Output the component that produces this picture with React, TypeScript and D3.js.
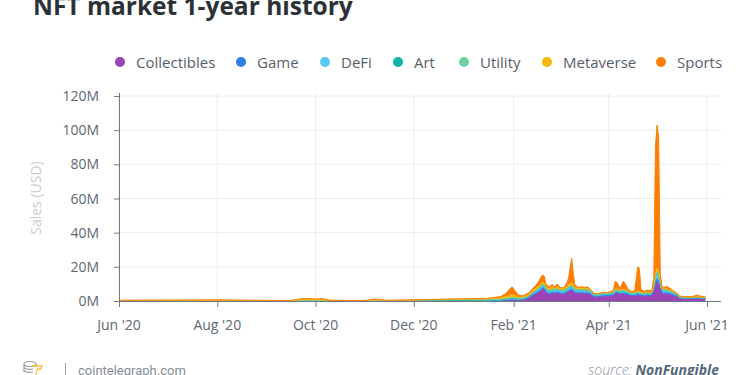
import React from 'react';
import * as d3 from 'd3';

const dates = [
  '2020-06-01','2020-06-15','2020-07-01','2020-07-15','2020-08-01','2020-08-15','2020-09-01','2020-09-15',
  '2020-09-22','2020-09-26','2020-10-01','2020-10-05','2020-10-10','2020-10-20','2020-11-01','2020-11-06',
  '2020-11-09','2020-11-14','2020-11-25','2020-12-10','2020-12-25','2021-01-05','2021-01-15','2021-01-20',
  '2021-01-24','2021-01-27','2021-01-29','2021-01-31','2021-02-02','2021-02-04','2021-02-07','2021-02-10',
  '2021-02-12','2021-02-14','2021-02-16','2021-02-18','2021-02-19','2021-02-20','2021-02-21','2021-02-23',
  '2021-02-25','2021-02-26','2021-02-28','2021-03-02','2021-03-04','2021-03-06','2021-03-07','2021-03-09',
  '2021-03-10','2021-03-11','2021-03-13','2021-03-15','2021-03-17','2021-03-19','2021-03-21','2021-03-23',
  '2021-03-25','2021-03-27','2021-03-29','2021-03-31','2021-04-02','2021-04-04','2021-04-05','2021-04-06',
  '2021-04-08','2021-04-10','2021-04-11','2021-04-13','2021-04-15','2021-04-17','2021-04-18','2021-04-19',
  '2021-04-20','2021-04-21','2021-04-23','2021-04-25','2021-04-27','2021-04-28','2021-04-29','2021-04-30',
  '2021-05-01','2021-05-02','2021-05-03','2021-05-04','2021-05-05','2021-05-07','2021-05-09','2021-05-11',
  '2021-05-13','2021-05-15','2021-05-17','2021-05-20','2021-05-23','2021-05-26','2021-05-28','2021-05-31',
];

// values in millions USD
const collectibles = [
  0.05,0.05,0.05,0.05,0.05,0.05,0.05,0.05, 0.05,0.05,0.05,0.05,0.05,0.05,0.05,0.05,
  0.05,0.05,0.05,0.05,0.08,0.1,0.1,0.15, 0.2,0.3,0.3,0.3,0.3,0.4,0.6,1.5,
  2.8,3.8,4.8,6.0,7.2,6.6,5.0,3.8, 4.8,4.0,4.8,4.2,4.0,5.0,5.5,6.5,
  5.5,4.6,4.3,4.4,4.2,4.4,3.5,2.3, 2.2,2.6,2.8,2.8,3.0,3.4,4.5,4.6,
  4.0,4.2,4.0,3.6,3.0,3.0,3.2,3.5, 3.3,3.0,2.8,3.2,3.0,3.5,6.0,9.0,
  10.5,9.5,6.5,4.5,4.0,4.2,3.8,3.2, 2.6,1.4,1.1,1.1,1.2,1.3,1.1,1.0,
];
const game = [
  0.05,0.05,0.05,0.05,0.05,0.05,0.05,0.05, 0.08,0.08,0.08,0.08,0.05,0.05,0.05,0.08,
  0.08,0.05,0.05,0.05,0.05,0.05,0.05,0.1, 0.15,0.3,0.4,0.5,0.4,0.3,0.3,0.3,
  0.4,0.4,0.5,0.6,0.6,0.6,0.5,0.5, 0.5,0.5,0.5,0.4,0.4,0.5,0.5,0.6,
  0.5,0.5,0.5,0.5,0.5,0.5,0.4,0.3, 0.3,0.3,0.3,0.3,0.3,0.3,0.4,0.4,
  0.4,0.4,0.4,0.4,0.3,0.3,0.3,0.4, 0.4,0.3,0.3,0.3,0.3,0.4,0.8,1.5,
  2.5,2.0,1.2,0.8,0.6,0.6,0.5,0.4, 0.4,0.3,0.3,0.3,0.3,0.3,0.3,0.3,
];
const defi = [
  0.05,0.05,0.05,0.05,0.05,0.05,0.05,0.05, 0.1,0.1,0.1,0.1,0.05,0.05,0.05,0.1,
  0.1,0.05,0.08,0.08,0.1,0.1,0.1,0.15, 0.2,0.3,0.4,0.5,0.5,0.4,0.4,0.5,
  0.8,1.0,1.2,1.4,1.5,1.5,1.3,1.2, 1.3,1.2,1.3,1.2,1.2,1.3,1.4,1.5,
  1.4,1.2,1.2,1.2,1.1,1.2,1.0,0.8, 0.8,0.8,0.9,0.8,0.8,0.9,1.0,1.0,
  0.9,1.0,1.0,0.9,0.8,0.8,0.8,0.9, 0.9,0.8,0.8,0.8,0.8,0.9,1.5,3.0,
  3.5,3.0,2.5,1.5,1.2,1.2,1.1,0.9, 0.8,0.5,0.4,0.4,0.4,0.4,0.4,0.4,
];
const art = [
  0.02,0.02,0.02,0.02,0.02,0.02,0.02,0.02, 0.02,0.02,0.02,0.02,0.02,0.02,0.02,0.02,
  0.02,0.02,0.05,0.08,0.1,0.1,0.1,0.1, 0.15,0.2,0.2,0.3,0.2,0.2,0.2,0.2,
  0.2,0.3,0.3,0.3,0.3,0.3,0.3,0.3, 0.3,0.3,0.3,0.3,0.3,0.3,0.3,0.3,
  0.3,0.3,0.3,0.3,0.3,0.3,0.3,0.2, 0.2,0.2,0.2,0.2,0.2,0.2,0.2,0.2,
  0.2,0.2,0.2,0.2,0.2,0.2,0.2,0.2, 0.2,0.2,0.2,0.2,0.2,0.2,0.3,0.4,
  0.5,0.4,0.3,0.3,0.2,0.2,0.2,0.2, 0.2,0.1,0.1,0.1,0.1,0.1,0.1,0.1,
];
const utility = [
  0.02,0.02,0.02,0.02,0.02,0.02,0.02,0.02, 0.02,0.02,0.02,0.02,0.02,0.02,0.02,0.02,
  0.02,0.05,0.15,0.3,0.35,0.4,0.4,0.4, 0.3,0.3,0.3,0.3,0.2,0.2,0.2,0.2,
  0.2,0.2,0.2,0.2,0.2,0.2,0.2,0.2, 0.2,0.2,0.2,0.2,0.2,0.2,0.2,0.2,
  0.2,0.2,0.2,0.2,0.2,0.2,0.2,0.2, 0.2,0.2,0.2,0.2,0.2,0.2,0.2,0.2,
  0.2,0.2,0.2,0.2,0.2,0.2,0.2,0.2, 0.2,0.2,0.2,0.2,0.2,0.2,0.2,0.3,
  0.3,0.3,0.2,0.2,0.2,0.2,0.2,0.2, 0.2,0.1,0.1,0.1,0.1,0.1,0.1,0.1,
];
const metaverse = [
  0.05,0.05,0.05,0.08,0.08,0.05,0.05,0.05, 0.4,0.5,0.4,0.4,0.1,0.05,0.05,0.3,
  0.3,0.08,0.1,0.2,0.35,0.4,0.45,0.6, 0.8,1.2,1.5,1.8,1.5,0.8,0.7,0.8,
  1.0,1.2,1.3,1.3,1.3,1.2,1.0,1.0, 1.2,1.0,1.2,1.0,1.0,1.2,1.4,1.6,
  1.4,1.1,0.9,1.0,0.9,1.0,0.8,0.4, 0.4,0.5,0.6,0.5,0.5,0.6,0.8,0.8,
  0.6,0.8,0.8,0.6,0.5,0.5,0.6,0.7, 0.7,0.5,0.5,0.5,0.5,0.6,1.0,1.5,
  2.0,1.8,1.0,0.8,0.7,0.7,0.6,0.5, 0.4,0.3,0.2,0.2,0.2,0.3,0.2,0.3,
];
const sports = [
  0.2,0.3,0.35,0.35,0.4,0.3,0.15,0.1, 0.6,0.7,0.5,0.7,0.2,0.1,0.1,0.6,
  0.5,0.1,0.1,0.1,0.15,0.2,0.3,0.6, 0.8,1.7,3.4,4.6,2.6,1.0,0.8,1.0,
  1.1,1.6,2.2,4.2,4.2,4.1,1.7,1.0, 1.6,0.8,1.6,0.6,0.5,2.0,4.0,14.3,
  6.5,1.5,0.6,0.7,0.8,0.7,0.3,0.2, 0.1,0.2,0.2,0.2,0.4,0.9,4.4,3.8,
  0.9,4.7,3.9,1.1,0.5,0.5,6.7,14.1, 13.3,2.0,0.7,1.3,1.0,1.7,4.2,74.3,
  83.7,78.0,4.3,0.9,1.1,1.4,1.1,0.6, 0.4,0.3,0.3,0.3,0.3,1.0,0.6,0.3,
];

const seriesNames = ['Collectibles', 'Game', 'DeFi', 'Art', 'Utility', 'Metaverse', 'Sports'];
const seriesValues = [collectibles, game, defi, art, utility, metaverse, sports];
const seriesColors = ['#9c43b5', '#2f7fe9', '#57c9f2', '#10b3a5', '#6fd29c', '#f6b70c', '#fc7e05'];
const yTicks = [0, 20, 40, 60, 80, 100, 120];
const xTicks = ['2020-06-01', '2020-08-01', '2020-10-01', '2020-12-01', '2021-02-01', '2021-04-01', '2021-06-01'];
const legendX = [120, 241, 325, 398, 464, 547, 661];

const FONT = "'Open Sans', 'Noto Sans', sans-serif";

export default function App() {
  const parse = d3.utcParse('%Y-%m-%d');
  const left = 119;
  const right = 721;
  const top = 93;
  const x = d3.scaleUtc().domain([parse('2020-06-01')!, parse('2021-06-01')!]).range([119, 707]);
  const y = d3.scaleLinear().domain([0, 120]).range([301, 96]);

  const rows = dates.map((d, i) => {
    const r: any = { date: parse(d) };
    seriesNames.forEach((n, k) => { r[n] = seriesValues[k][i]; });
    return r;
  });
  const stacked = d3.stack<any>().keys(seriesNames)(rows);
  const area = d3.area<any>()
    .x((d) => x(d.data.date))
    .y0((d) => y(d[0]))
    .y1((d) => y(d[1]))
    .curve(d3.curveLinear);
  const line = d3.line<any>()
    .x((d) => x(d.data.date))
    .y((d) => y(d[1]))
    .curve(d3.curveLinear);
  const fmt = d3.utcFormat("%b '%y");

  return (
    <svg width={750} height={375} style={{ position: 'absolute', left: 0, top: 0, background: '#fff' }}
      fontFamily={FONT}>
      <rect x={0} y={0} width={750} height={375} fill="#fff" />
      <text x={33} y={15} fontSize={24.5} fontWeight={700} fill="#2c3137">NFT market 1-year history</text>

      {seriesNames.map((n, i) => (
        <g key={n}>
          <circle cx={legendX[i]} cy={62} r={5} fill={seriesColors[i]} />
          <text x={legendX[i] + 16} y={67.5} fontSize={15} fill="#56606b">{n}</text>
        </g>
      ))}

      {/* grid */}
      {yTicks.map((t) => (
        <line key={'gy' + t} x1={left} x2={right} y1={y(t)} y2={y(t)} stroke="#ededed" strokeWidth={1} />
      ))}
      {xTicks.map((t) => (
        <line key={'gx' + t} x1={x(parse(t)!)} x2={x(parse(t)!)} y1={top} y2={301} stroke="#ededed" strokeWidth={1} />
      ))}

      {/* areas */}
      {stacked.map((s, i) => (
        <path key={'a' + i} d={area(s) || ''} fill={seriesColors[i]} />
      ))}
      {stacked.map((s, i) => (
        <path key={'l' + i} d={line(s) || ''} fill="none" stroke={seriesColors[i]} strokeWidth={1} />
      ))}

      {/* axes */}
      <line x1={left + 0.5} x2={left + 0.5} y1={top} y2={301.5} stroke="#6e7a88" strokeWidth={1} />
      <line x1={left} x2={right} y1={301.5} y2={301.5} stroke="#6e7a88" strokeWidth={1} />
      {yTicks.map((t) => (
        <g key={'ty' + t}>
          <line x1={114} x2={left} y1={y(t) + 0.5} y2={y(t) + 0.5} stroke="#6e7a88" />
          <text x={99} y={y(t) + 5} fontSize={14} textAnchor="end" fill="#5d6874">{t + 'M'}</text>
        </g>
      ))}
      {xTicks.map((t) => (
        <g key={'tx' + t}>
          <line x1={x(parse(t)!) + 0.5} x2={x(parse(t)!) + 0.5} y1={301.5} y2={307} stroke="#6e7a88" />
          <text x={x(parse(t)!)} y={330} fontSize={14} textAnchor="middle" fill="#5d6874">{fmt(parse(t)!)}</text>
        </g>
      ))}
      <text transform="translate(41,198) rotate(-90)" fontSize={14} textAnchor="middle" fill="#c9cdd2">Sales (USD)</text>

      {/* footer */}
      <g stroke="#9aa0a8" strokeWidth={1.2} fill="none">
        <ellipse cx={30} cy={364} rx={6} ry={2.5} />
        <path d="M24,364 v8 M36,364 v3" />
        <path d="M24,367 a6,2.5 0 0 0 9,2" />
        <path d="M24,370 a6,2.5 0 0 0 9,2" />
      </g>
      <path d="M32,366 h10 l-1.5,3 h-3 l-2,6" fill="none" stroke="#f2c230" strokeWidth={1.3} />
      <line x1={65.5} x2={65.5} y1={363} y2={376} stroke="#9aa0a8" strokeWidth={1} />
      <text x={78} y={375} fontSize={13} fontFamily="Roboto, sans-serif" fill="#868d96">cointelegraph.com</text>
      <text x={719} y={375} fontSize={14} textAnchor="end" fontStyle="italic">
        <tspan fill="#8e959d" fontWeight={300}>source: </tspan>
        <tspan fill="#56677a" fontWeight={700}>NonFungible</tspan>
      </text>
    </svg>
  );
}
